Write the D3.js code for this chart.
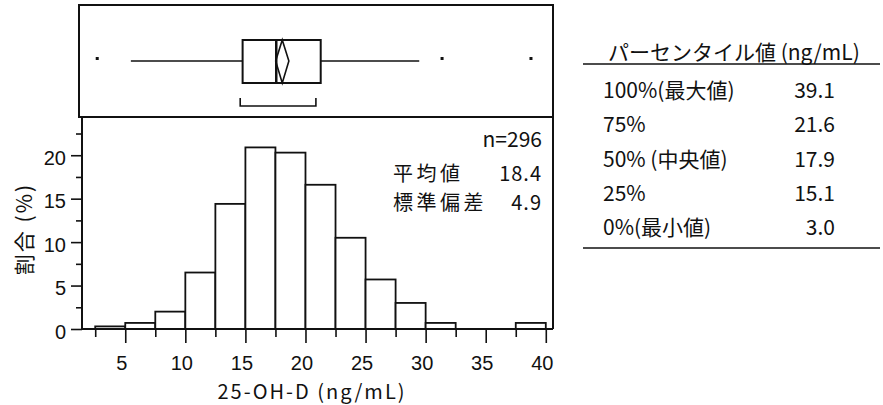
<!DOCTYPE html>
<html>
<head>
<meta charset="utf-8">
<script src="https://cdn.jsdelivr.net/npm/d3@7"></script>
<style>
  html, body { margin: 0; padding: 0; background: #fff; }
  svg { display: block; font-family: 'Noto Sans CJK JP', 'Noto Sans', sans-serif; }
</style>
</head>
<body>
<svg id="chart" width="883" height="405"></svg>
<script>
// histogram: bin start (ng/mL), bin width 2.5, percentage of subjects
const binStart = [2.5, 5, 7.5, 10, 12.5, 15, 17.5, 20, 22.5, 25, 27.5, 30, 32.5, 35, 37.5];
const binPct = [0.3, 0.7, 2.0, 6.5, 14.4, 20.9, 20.3, 16.6, 10.5, 5.7, 3.0, 0.7, 0, 0, 0.7];
const binWidth = 2.5;

const xMajor = [5, 10, 15, 20, 25, 30, 35, 40];
const xMinor = [2.5, 7.5, 12.5, 17.5, 22.5, 27.5, 32.5, 37.5];
const yMajor = [0, 5, 10, 15, 20];
const yMinor = [2.5, 7.5, 12.5, 17.5, 22.5];

// box plot summary
const quartiles = [15.1, 17.9, 21.6];
const whiskers = [5.8, 29.8];
const outliers = [3.0, 31.7, 39.1];
const meanCI = [17.85, 18.95];
const shortestHalf = [14.9, 21.2];

// summary stats
const statN = 296;
const statLabels = ['平均値', '標準偏差'];
const statValues = [18.4, 4.9];

// percentile table
const pctLabels = ['100%(最大値)', '75%', '50% (中央値)', '25%', '0%(最小値)'];
const pctValues = [39.1, 21.6, 17.9, 15.1, 3.0];

const svg = d3.select('#chart');
svg.append('rect').attr('width', 883).attr('height', 405).attr('fill', '#fff');

const x = d3.scaleLinear().domain([1.4, 40.6]).range([82, 553]);
const xb = x.copy().range([78, 549]);
const y = d3.scaleLinear().domain([0, 24.4]).range([329, 117]);

// ---- box plot panel
const box = svg.append('g').attr('fill', 'none').attr('stroke', '#111');
box.append('rect').attr('x', 79).attr('y', 5).attr('width', 474).attr('height', 112)
  .attr('stroke-width', 2);

const yMid = 61;
box.append('line').attr('x1', xb(whiskers[0])).attr('x2', xb(quartiles[0]))
  .attr('y1', yMid).attr('y2', yMid).attr('stroke-width', 1.6);
box.append('line').attr('x1', xb(quartiles[2])).attr('x2', xb(whiskers[1]))
  .attr('y1', yMid).attr('y2', yMid).attr('stroke-width', 1.6);
box.append('rect').attr('x', xb(quartiles[0])).attr('y', 40)
  .attr('width', xb(quartiles[2]) - xb(quartiles[0])).attr('height', 43)
  .attr('stroke-width', 2);
box.append('line').attr('x1', xb(quartiles[1])).attr('x2', xb(quartiles[1]))
  .attr('y1', 40).attr('y2', 83).attr('stroke-width', 2.5);

const meanX = xb(statValues[0]);
box.append('path')
  .attr('d', `M${xb(meanCI[0])},${yMid}L${meanX},40L${xb(meanCI[1])},${yMid}L${meanX},83Z`)
  .attr('stroke-width', 1.6);

box.append('path')
  .attr('d', `M${xb(shortestHalf[0])},98V106H${xb(shortestHalf[1])}V98`)
  .attr('stroke-width', 1.6);

svg.selectAll('rect.outlier').data(outliers).join('rect')
  .attr('class', 'outlier')
  .attr('x', (d) => xb(d) - 1.5).attr('y', 57).attr('width', 3).attr('height', 3)
  .attr('fill', '#111');

// ---- histogram panel
svg.selectAll('rect.bar').data(binStart).join('rect')
  .attr('class', 'bar')
  .attr('x', (d) => x(d))
  .attr('width', (d) => x(d + binWidth) - x(d))
  .attr('y', (d, i) => y(binPct[i]))
  .attr('height', (d, i) => y(0) - y(binPct[i]))
  .attr('fill', '#fff').attr('stroke', '#111').attr('stroke-width', 1.8);

svg.append('path')
  .attr('d', `M${x.range()[0]},${y(0)}V${y.range()[1]}H${x.range()[1]}V${y(0)}`)
  .attr('fill', 'none').attr('stroke', '#111').attr('stroke-width', 2);
svg.append('line').attr('x1', x.range()[0]).attr('x2', x.range()[1])
  .attr('y1', y(0)).attr('y2', y(0)).attr('stroke', '#111').attr('stroke-width', 2);

function styleAxis(g) {
  g.select('.domain').remove();
  g.selectAll('line').attr('stroke', '#111').attr('stroke-width', 1.6);
  g.selectAll('text').attr('fill', '#111').attr('font-family', null);
}

const xAxis = svg.append('g').attr('transform', `translate(0,${y(0)})`)
  .call(d3.axisBottom(x).tickValues(xMajor).tickSize(14).tickFormat(d3.format('d')))
  .call(styleAxis);
xAxis.selectAll('text').attr('y', 41).attr('dy', 0).attr('x', -4).attr('font-size', 20);
svg.append('g').attr('transform', `translate(0,${y(0)})`)
  .call(d3.axisBottom(x).tickValues(xMinor).tickSize(8).tickFormat(''))
  .call(styleAxis);

const yAxis = svg.append('g').attr('transform', `translate(${x.range()[0]},0)`)
  .call(d3.axisLeft(y).tickValues(yMajor).tickSize(11).tickFormat(d3.format('d')))
  .call(styleAxis);
yAxis.selectAll('text').attr('x', -16).attr('dy', '0.45em').attr('font-size', 20);
svg.append('g').attr('transform', `translate(${x.range()[0]},0)`)
  .call(d3.axisLeft(y).tickValues(yMinor).tickSize(6).tickFormat(''))
  .call(styleAxis);

svg.append('text').attr('x', 312).attr('y', 399).attr('text-anchor', 'middle')
  .attr('font-size', 20).attr('letter-spacing', 2).attr('fill', '#111')
  .text('25-OH-D (ng/mL)');
svg.append('text').attr('transform', 'translate(23,229) rotate(-90)')
  .attr('text-anchor', 'middle').attr('dominant-baseline', 'central')
  .attr('font-size', 21).attr('letter-spacing', 2).attr('fill', '#111')
  .text('割合 (%)');

// stats text
const stats = svg.append('g').attr('font-size', 20).attr('fill', '#111');
stats.append('text').attr('x', 542).attr('y', 147).attr('text-anchor', 'end')
  .attr('font-size', 21).text(`n=${statN}`);
statLabels.forEach((lab, i) => {
  const yy = 181 + i * 29;
  stats.append('text').attr('x', 393).attr('y', yy).attr('letter-spacing', 3.5).text(lab);
  stats.append('text').attr('x', 542).attr('y', yy).attr('text-anchor', 'end')
    .attr('letter-spacing', 1).text(statValues[i].toFixed(1));
});

// percentile table
const tbl = svg.append('g').attr('font-size', 21).attr('fill', '#111');
tbl.append('text').attr('x', 608).attr('y', 60).text('パーセンタイル値 (ng/mL)');
tbl.append('line').attr('x1', 583).attr('x2', 880).attr('y1', 64).attr('y2', 64)
  .attr('stroke', '#111').attr('stroke-width', 1.6);
const rowY = d3.scalePoint().domain(pctLabels).range([98, 235]);
tbl.selectAll('text.lab').data(pctLabels).join('text')
  .attr('class', 'lab').attr('x', 603).attr('y', (d) => rowY(d)).text((d) => d);
tbl.selectAll('text.val').data(pctValues).join('text')
  .attr('class', 'val').attr('x', 835).attr('y', (d, i) => rowY(pctLabels[i]))
  .attr('text-anchor', 'end').text((d) => d.toFixed(1));
tbl.append('line').attr('x1', 583).attr('x2', 880).attr('y1', 248).attr('y2', 248)
  .attr('stroke', '#111').attr('stroke-width', 1.6);
</script>
</body>
</html>
